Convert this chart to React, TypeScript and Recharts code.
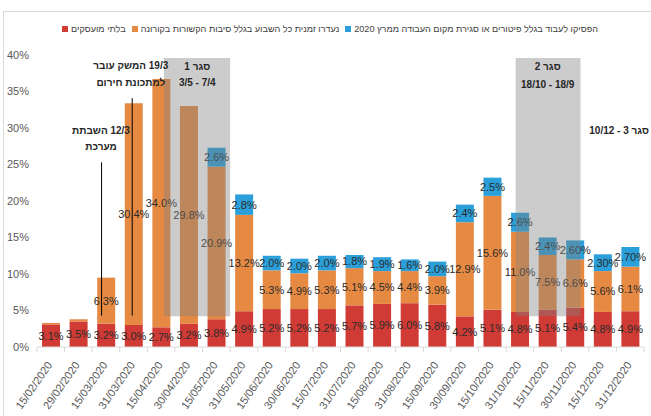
import {
  BarChart,
  Bar,
  XAxis,
  YAxis,
  LabelList,
  ReferenceArea,
  ReferenceLine,
  ReferenceDot,
} from 'recharts';

const dates = [
  '15/02/2020', '29/02/2020', '15/03/2020', '31/03/2020', '15/04/2020', '30/04/2020',
  '15/05/2020', '31/05/2020', '15/06/2020', '30/06/2020', '15/07/2020', '31/07/2020',
  '15/08/2020', '31/08/2020', '15/09/2020', '30/09/2020', '15/10/2020', '31/10/2020',
  '15/11/2020', '30/11/2020', '15/12/2020', '31/12/2020',
];

// % of labour force
const unemployed = [3.1, 3.5, 3.2, 3.0, 2.7, 3.2, 3.8, 4.9, 5.2, 5.2, 5.2, 5.7, 5.9, 6.0, 5.8, 4.2, 5.1, 4.8, 5.1, 5.4, 4.8, 4.9];
const absentCorona = [0.2, 0.3, 6.3, 30.4, 34.0, 29.8, 20.9, 13.2, 5.3, 4.9, 5.3, 5.1, 4.5, 4.4, 3.9, 12.9, 15.6, 11.0, 7.5, 6.6, 5.6, 6.1];
const stoppedWorking = [0, 0, 0, 0, 0, 0, 2.6, 2.8, 2.0, 2.0, 2.0, 1.8, 1.9, 1.6, 2.0, 2.4, 2.5, 2.6, 2.4, 2.6, 2.3, 2.7];
const stoppedDecimals = [1, 1, 1, 1, 1, 1, 1, 1, 1, 1, 1, 1, 1, 1, 1, 1, 1, 1, 1, 2, 2, 2];

const yTicks = [0, 5, 10, 15, 20, 25, 30, 35, 40];

const series = [
  { key: 'unemployed', name: 'בלתי מועסקים', color: '#D13B36' },
  { key: 'absent', name: 'נעדרו זמנית כל השבוע בגלל סיבות הקשורות בקורונה', color: '#E68A43' },
  { key: 'stopped', name: 'הפסיקו לעבוד בגלל פיטורים או סגירת מקום העבודה ממרץ 2020', color: '#2A9FD9' },
];

// lockdown periods, x in category units (0..22), y in %
const lockdowns = [
  { x1: 4.6, x2: 7.0, y1: 4.2, y2: 39.6 },
  { x1: 17.35, x2: 19.7, y1: 4.2, y2: 39.6 },
];

const notes = [
  { x: 5.81, y: 38.4, text: 'סגר 1', rtl: true },
  { x: 5.81, y: 36.2, text: '3/5 - 7/4', rtl: false },
  { x: 18.51, y: 38.4, text: 'סגר 2', rtl: true },
  { x: 18.51, y: 36.0, text: '18/10 - 18/9', rtl: false },
  { x: 21.1, y: 29.7, text: 'סגר 3 - 10/12', rtl: true },
  { x: 3.4, y: 38.5, text: '19/3 המשק עובר', rtl: true },
  { x: 3.4, y: 36.3, text: 'למתכונת חירום', rtl: true },
  { x: 2.32, y: 29.6, text: '12/3 השבתת', rtl: true },
  { x: 2.32, y: 27.4, text: 'מערכת', rtl: true },
];

const pointers = [
  { x: 2.34, from: 4.3, to: 25.3 },
  { x: 3.45, from: 4.3, to: 34.1 },
];

const boundaryTicks = Array.from({ length: dates.length + 1 }, (_, i) => i);

const data = dates.map((date, i) => ({
  date,
  slot: i + 0.5,
  unemployed: unemployed[i],
  absent: absentCorona[i],
  stopped: stoppedWorking[i],
  unemployedLabel: `${unemployed[i].toFixed(1)}%`,
  absentLabel: absentCorona[i] >= 1 ? `${absentCorona[i].toFixed(1)}%` : '',
  stoppedLabel: stoppedWorking[i] > 0 ? `${stoppedWorking[i].toFixed(stoppedDecimals[i])}%` : '',
}));

const FONT = '"Liberation Sans Narrow", "Liberation Sans", Arial, sans-serif';
const labelStyle = { fill: '#2b2b2b', fontSize: 11, fontFamily: FONT };

const DateTick = (props: any) => {
  const { x, y, payload } = props;
  const tx = x + 2;
  const ty = y + 10;
  return (
    <text
      x={tx}
      y={ty}
      textAnchor="end"
      fontSize={11}
      fontFamily='"Liberation Sans", Arial, sans-serif'
      fill="#595959"
      transform={`rotate(-55, ${tx}, ${ty})`}
    >
      {payload.value}
    </text>
  );
};

const noteShape = (text: string, rtl: boolean) => (p: any) => (
  <text
    x={p.cx}
    y={p.cy}
    textAnchor="middle"
    dominantBaseline="central"
    direction={rtl ? 'rtl' : 'ltr'}
    fontSize={10}
    fontWeight="bold"
    fontFamily={FONT}
    fill="#262626"
  >
    {text}
  </text>
);

export default function App() {
  return (
    <div style={{ position: 'absolute', left: 0, top: 0, width: 651, height: 416, background: '#fff', overflow: 'hidden', fontFamily: FONT }}>
      <div style={{ position: 'absolute', left: 3, top: 11, width: 700, height: 500, border: '1px solid #D9D9D9' }} />
      <div
        style={{
          position: 'absolute',
          top: 24,
          left: 0,
          width: 660,
          display: 'flex',
          justifyContent: 'center',
          gap: 6,
          fontSize: 9.1,
          color: '#404040',
          fontFamily: '"Liberation Sans", Arial, sans-serif',
        }}
      >
        {series.map((s) => (
          <div key={s.key} style={{ display: 'flex', alignItems: 'center' }}>
            <span style={{ width: 6, height: 6, background: s.color, marginRight: 3, display: 'inline-block' }} />
            <span>{s.name}</span>
          </div>
        ))}
      </div>
      <BarChart
        width={651}
        height={416}
        data={data}
        margin={{ top: 55, right: 7, bottom: 0, left: 0 }}
        barSize={18}
        style={{ position: 'absolute', left: 0, top: 0 }}
      >
        <XAxis
          dataKey="date"
          interval={0}
          height={69}
          tick={<DateTick />}
          tickLine={false}
          axisLine={{ stroke: '#D9D9D9' }}
        />
        {/* category boundary tick marks, drawn on the plot's bottom edge */}
        <XAxis
          xAxisId="num"
          dataKey="slot"
          type="number"
          orientation="top"
          mirror
          domain={[0, dates.length]}
          allowDataOverflow
          ticks={boundaryTicks}
          tick={false}
          axisLine={false}
          tickLine={{ stroke: '#D9D9D9' }}
          tickSize={5}
          height={0}
        />
        <YAxis
          domain={[0, 40]}
          ticks={yTicks}
          width={37}
          axisLine={false}
          tickLine={false}
          tickMargin={2}
          tickFormatter={(v) => `${v}%`}
          tick={{ fill: '#595959', fontSize: 11, fontFamily: FONT }}
        />
        <Bar dataKey="unemployed" name={series[0].name} stackId="a" fill={series[0].color} isAnimationActive={false}>
          <LabelList dataKey="unemployedLabel" position="center" style={labelStyle} />
        </Bar>
        <Bar dataKey="absent" name={series[1].name} stackId="a" fill={series[1].color} isAnimationActive={false}>
          <LabelList dataKey="absentLabel" position="center" style={labelStyle} />
        </Bar>
        <Bar dataKey="stopped" name={series[2].name} stackId="a" fill={series[2].color} isAnimationActive={false}>
          <LabelList dataKey="stoppedLabel" position="center" style={labelStyle} />
        </Bar>
        {boundaryTicks.map((t) => (
          <ReferenceLine
            key={`t${t}`}
            xAxisId="num"
            segment={[{ x: t, y: 0 }, { x: t, y: -0.7 }]}
            ifOverflow="visible"
            stroke="#D9D9D9"
            strokeWidth={1}
          />
        ))}
        {pointers.map((p, i) => (
          <ReferenceLine
            key={`p${i}`}
            xAxisId="num"
            segment={[{ x: p.x, y: p.from }, { x: p.x, y: p.to }]}
            stroke="#000"
            strokeWidth={1}
          />
        ))}
        {lockdowns.map((l, i) => (
          <ReferenceArea
            key={`l${i}`}
            xAxisId="num"
            x1={l.x1}
            x2={l.x2}
            y1={l.y1}
            y2={l.y2}
            fill="#808080"
            fillOpacity={0.4}
            stroke="none"
            zIndex={3000}
          />
        ))}
        {notes.map((n, i) => (
          <ReferenceDot key={`n${i}`} xAxisId="num" x={n.x} y={n.y} r={0} shape={noteShape(n.text, n.rtl)} zIndex={3100} />
        ))}
      </BarChart>
    </div>
  );
}
